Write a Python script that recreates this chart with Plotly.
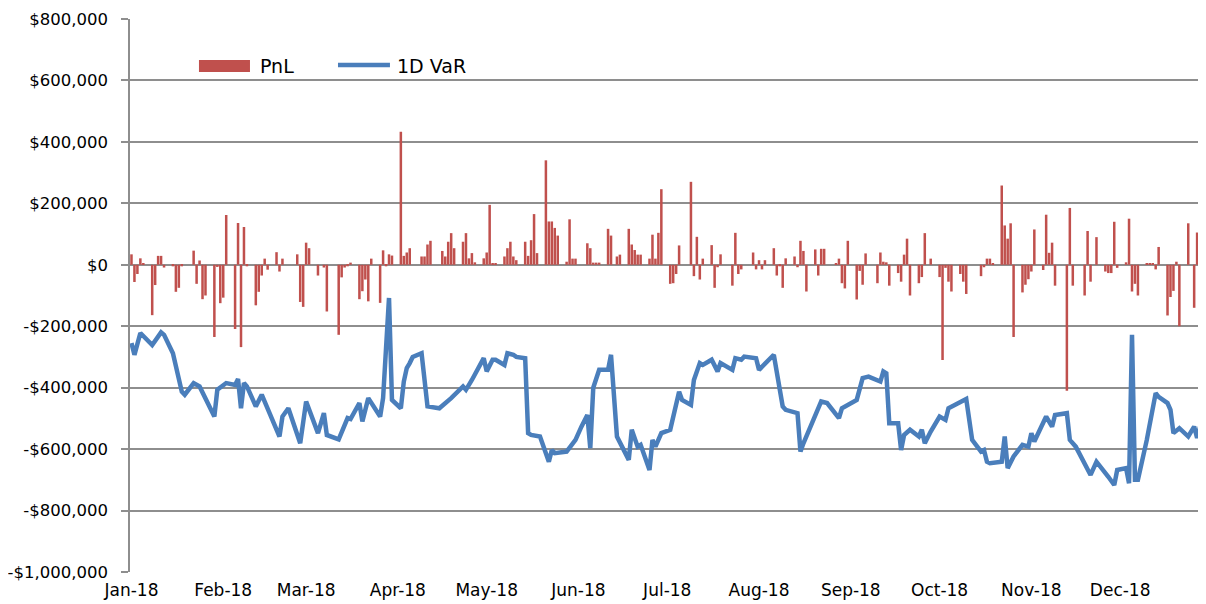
import pandas as pd
import plotly.graph_objects as go

# ---- data (day offsets from 2018-01-01, values in $ thousands) ----
pnl_days = [0, 1, 2, 3, 4, 7, 8, 9, 10, 11, 14, 15, 16, 17, 21, 22, 23, 24, 25,
            28, 29, 30, 31, 32, 35, 36, 37, 38, 39, 42, 43, 44, 45, 46, 49, 50, 51,
            56, 57, 58, 59, 60, 63, 65, 66, 70, 71, 72, 73, 74, 77, 78, 79, 80, 81,
            84, 85, 86, 87, 88, 91, 92, 93, 94, 98, 99, 100, 101,
            105, 106, 107, 108, 109, 112, 113, 114, 115, 116, 119, 120, 121, 122, 123,
            126, 127, 128, 129, 130, 133, 134, 135, 136, 137, 140, 141, 142, 143, 144,
            147, 148, 149, 150, 154, 155, 156, 157, 158, 161, 162, 164, 165,
            168, 169, 170, 171, 172, 175, 176, 177, 178, 179, 182, 183, 184, 185,
            189, 190, 191, 192, 193, 196, 197, 198, 199, 203, 204, 205, 206,
            210, 211, 212, 213, 214, 217, 218, 219, 220, 221, 224, 225, 226, 227, 228,
            231, 232, 233, 234, 238, 239, 240, 241, 242, 245, 246, 247, 248,
            252, 253, 254, 255, 256, 259, 260, 261, 262, 263, 266, 267, 268, 270,
            273, 274, 275, 276, 277, 280, 281, 282, 287, 288, 289, 290, 291,
            294, 295, 296, 297, 298, 301, 302, 303, 304, 305, 308, 309, 310, 311, 312,
            316, 317, 318, 322, 323, 324, 326, 329, 330, 331, 332, 333,
            336, 337, 338, 339, 340, 343, 344, 345, 346, 347,
            350, 351, 352, 353, 354, 357, 359, 360, 361]
pnl_k = [34, -56, -30, 21, 5, -164, -66, 29, 29, -9, -5, -88, -75, -5, 46, -62, 14, -112, -100,
         -235, -7, -125, -107, 162, -209, 136, -268, 123, -5, -132, -88, -35, 20, -16, 41, -22, 20,
         34, -121, -137, 72, 54, -35, -9, -152, -228, -41, -9, -5, 7, -112, -86, -48, -119, 20,
         -124, 47, -5, 34, 30, 433, 29, 40, 54, 27, 27, 66, 78,
         45, 27, 75, 103, 54, 75, 103, 21, 38, 8, 21, 40, 195, 5, 5,
         27, 54, 75, 27, 15, 75, 29, 80, 165, 38, 340, 141, 141, 120, 95,
         10, 148, 20, 20, 70, 54, 7, 7, 7, 117, 95, 27, 33,
         117, 66, 48, 33, 33, 20, 98, 20, 104, 246, -62, -60, -30, 63,
         270, -37, 91, -48, 20, 64, -75, -8, 34, -68, 104, -30, -15,
         40, -15, 15, -15, 15, 54, -35, -5, -75, 21, 27, -8, 78, 45, -87,
         50, -35, 52, 52, 5, 20, -60, -77, 78, -113, -20, -65, 37,
         -60, 40, 10, 8, -68, -27, -55, 33, 85, -100, -60, -40, 103, 20,
         -40, -310, -10, -55, -87, -30, -55, -95, -37, -8, 20, 20, 5,
         258, 128, 85, 135, -235, -90, -65, -47, -22, 115, -17, 163, 39, 72, -68,
         -410, 185, -68, -100, 110, -55, 90, -22, -27, -27, 140, -10,
         8, 150, -87, -62, -100, 5, 5, 5, -15, 58,
         -165, -105, -85, 10, -200, 135, -140, 105, -40]

var_days = [0, 1, 3, 7, 10, 11, 14, 16, 17, 18, 21, 23, 28, 29, 32, 35, 36, 37, 38, 39,
            42, 44, 50, 51, 53, 57, 59, 63, 65, 66, 70, 73, 74, 77, 78, 80, 84, 85, 87, 88,
            91, 92, 93, 94, 95, 98, 100, 104, 108, 112, 113, 115, 116, 119, 120, 122, 123,
            126, 127, 129, 130, 133, 134, 135, 138, 141, 142, 143, 147, 150, 152, 154, 155,
            156, 158, 161, 162, 163, 164, 168, 169, 171, 172, 175, 176, 177, 179, 182, 185,
            186, 189, 190, 192, 193, 196, 198, 199, 203, 204, 206, 207, 211, 212, 217, 220,
            221, 224, 225, 226, 227, 233, 235, 239, 240, 245, 247, 249, 253, 254, 255, 256,
            259, 260, 261, 263, 266, 267, 268, 270, 273, 275, 276, 282, 284, 287, 288, 289,
            290, 294, 295, 296, 298, 301, 303, 304, 305, 309, 311, 312, 316, 317, 319, 324,
            326, 330, 332, 333, 336, 337, 338, 339, 340, 343, 346, 347, 350, 351, 352, 354,
            357, 359, 360, 361, 364]
var_k = [-255, -293, -222, -261, -220, -228, -288, -364, -413, -423, -385, -396, -494, -407,
         -385, -391, -372, -467, -385, -396, -461, -423, -559, -494, -467, -581, -445, -548,
         -483, -554, -568, -499, -502, -450, -510, -434, -494, -434, -108, -440,
         -467, -380, -336, -320, -300, -288, -461, -467, -434, -396, -407, -375, -358, -304,
         -347, -309, -309, -326, -288, -293, -300, -304, -548, -554, -559, -641, -603, -613,
         -608, -570, -527, -489, -597, -400, -342, -342, -293, -450, -559, -635, -537, -592,
         -586, -668, -570, -592, -548, -537, -413, -440, -456, -375, -320, -326, -309, -347,
         -320, -342, -304, -309, -299, -304, -342, -293, -461, -472, -478, -483, -608, -581,
         -445, -450, -499, -467, -440, -369, -364, -380, -347, -353, -516, -516, -603, -554,
         -537, -559, -537, -581, -543, -494, -505, -467, -437, -570, -608, -603, -641, -646,
         -641, -559, -662, -624, -586, -592, -548, -575, -494, -527, -489, -483, -570, -592,
         -684, -641, -690, -717, -668, -662, -711, -228, -700, -700, -570, -418, -430, -450,
         -472, -548, -532, -559, -527, -564, -527, -537]

y_ticks = list(range(-1000000, 800001, 200000))
y_tick_text = [("-$" if v < 0 else "$") + f"{abs(v):,}" for v in y_ticks]

base = pd.Timestamp("2018-01-01")
pnl_dates = base + pd.to_timedelta(pnl_days, unit="D")
var_dates = base + pd.to_timedelta(var_days, unit="D")

RED = "#C0504D"
BLUE = "#4A7EBB"
GRID = "#8E8E8E"
x_range = ["2017-12-31 12:00", "2018-12-30 00:00"]

fig = go.Figure()
fig.add_trace(go.Bar(x=pnl_dates, y=[v * 1000 for v in pnl_k], name="PnL",
                     marker=dict(color=RED, line=dict(width=0)),
                     width=0.85 * 86400000))
fig.add_trace(go.Scatter(x=var_dates, y=[v * 1000 for v in var_k], name="1D VaR",
                         mode="lines", line=dict(color=BLUE, width=4.5)))

# the page body has an 8px default margin, so the figure is sized/offset for it
fig.update_layout(
    width=1198, height=596,
    margin=dict(l=122, r=0, t=11, b=32),
    paper_bgcolor="white", plot_bgcolor="white",
    showlegend=False,
    font=dict(family="DejaVu Sans", size=16.5, color="#000000"),
    xaxis=dict(type="date", range=x_range, tickmode="linear", tick0="2018-01-01",
               dtick="M1", tickformat="%b-%y", ticks="", showgrid=False,
               showline=False, zeroline=False, tickfont=dict(size=17),
               ticklabelstandoff=6),
    xaxis2=dict(type="date", range=x_range, overlaying="x", anchor="free",
                position=0.8 / 1.8, tickmode="linear", tick0="2018-01-01", dtick="M1",
                ticks="outside", ticklen=5, tickcolor=GRID, tickwidth=1.5,
                showticklabels=False, showgrid=False, showline=False, zeroline=False),
    yaxis=dict(range=[-1000000, 800000], tickmode="array", tickvals=y_ticks,
               ticktext=y_tick_text, showgrid=True, gridcolor=GRID, gridwidth=1.5,
               zeroline=True, zerolinecolor=GRID, zerolinewidth=1.5,
               showline=True, linecolor=GRID, linewidth=1.5,
               ticks="outside", ticklen=7, tickcolor=GRID, tickwidth=1.5,
               ticklabelstandoff=10),
)

# legend keys drawn in paper coordinates (Excel-style long swatches)
fig.add_shape(type="rect", xref="paper", yref="paper", x0=0.0641, x1=0.1115,
              y0=0.904, y1=0.926, fillcolor=RED, line=dict(width=0))
fig.add_shape(type="line", xref="paper", yref="paper", x0=0.1933, x1=0.2416,
              y0=0.9168, y1=0.9168, line=dict(color=BLUE, width=4.5))
fig.add_annotation(xref="paper", yref="paper", x=0.119, y=0.915, text="PnL",
                   showarrow=False, xanchor="left", yanchor="middle",
                   font=dict(size=19, family="DejaVu Sans", color="#000"))
fig.add_annotation(xref="paper", yref="paper", x=0.2463, y=0.915, text="1D VaR",
                   showarrow=False, xanchor="left", yanchor="middle",
                   font=dict(size=19, family="DejaVu Sans", color="#000"))

fig.write_html("out.html")
